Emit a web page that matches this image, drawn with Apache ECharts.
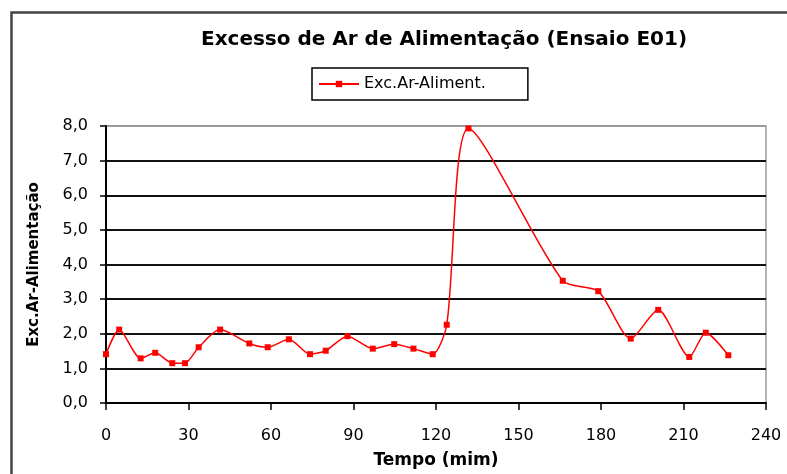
<!DOCTYPE html>
<html>
<head>
<meta charset="utf-8">
<script src="https://cdn.jsdelivr.net/npm/echarts@6/dist/echarts.min.js"></script>
<style>
html,body{margin:0;padding:0;background:#fff;}
#c{width:787px;height:474px;}
</style>
</head>
<body>
<div id="c"></div>
<script>
// Data
var tempo = [0, 4.8, 12.6, 17.9, 24.1, 28.7, 33.7, 41.5, 52.1, 58.8, 66.5, 74.2, 79.9, 87.8, 97.0, 104.8, 111.8, 118.8, 123.9, 131.8, 166.1, 179.0, 190.8, 200.8, 212.1, 218.1, 226.3];
var excAr = [1.41, 2.12, 1.29, 1.45, 1.15, 1.15, 1.61, 2.12, 1.72, 1.61, 1.84, 1.41, 1.51, 1.93, 1.57, 1.70, 1.57, 1.41, 2.26, 7.93, 3.53, 3.23, 1.86, 2.69, 1.33, 2.03, 1.38];
var xTicks = [0, 30, 60, 90, 120, 150, 180, 210, 240];
var yTicks = [0, 1, 2, 3, 4, 5, 6, 7, 8];
var seriesName = 'Exc.Ar-Aliment.';
var titleText = 'Excesso de Ar de Alimentação (Ensaio E01)';
var xName = 'Tempo (mim)';
var yName = 'Exc.Ar-Alimentação';

var pts = tempo.map(function (t, i) { return [t, excAr[i]]; });
var font = 'DejaVu Sans, Liberation Sans, Arial, sans-serif';
var gridColors = yTicks.map(function (v, i) { return i === yTicks.length - 1 ? '#9a9a9a' : '#111'; });

var chart = echarts.init(document.getElementById('c'), null, {renderer: 'canvas'});
chart.setOption({
  animation: false,
  backgroundColor: '#fff',
  title: {
    text: titleText,
    left: 439, top: 25, textAlign: 'center',
    textStyle: {fontFamily: font, fontWeight: 'bold', fontSize: 20, color: '#000'}
  },
  legend: {
    data: [seriesName],
    left: 312, top: 68,
    padding: [8, 42, 8, 6],
    itemWidth: 40, itemHeight: 8, itemGap: 4,
    borderColor: '#000', borderWidth: 1.5,
    textStyle: {fontFamily: font, fontSize: 16, color: '#000'}
  },
  grid: {
    left: 106, right: 21, top: 126, bottom: 69,
    show: true, borderColor: '#9a9a9a', borderWidth: 1.5, backgroundColor: '#fff'
  },
  xAxis: {
    type: 'value', min: 0, max: 240, interval: 30,
    name: xName, nameLocation: 'middle', nameGap: 49,
    nameTextStyle: {fontFamily: font, fontWeight: 'bold', fontSize: 17, color: '#000'},
    axisLine: {lineStyle: {color: '#000', width: 2}},
    axisTick: {show: true, length: 7, lineStyle: {color: '#000', width: 1.5}},
    axisLabel: {fontFamily: font, fontSize: 16, color: '#000', margin: 25},
    splitLine: {show: false}
  },
  yAxis: {
    type: 'value', min: 0, max: 8, interval: 1,
    name: yName, nameLocation: 'middle', nameGap: 64, nameRotate: 90,
    nameTextStyle: {fontFamily: font, fontWeight: 'bold', fontSize: 15, color: '#000'},
    axisLine: {show: true, lineStyle: {color: '#000', width: 2}},
    axisTick: {show: true, length: 6, lineStyle: {color: '#000', width: 1.5}},
    axisLabel: {fontFamily: font, fontSize: 16, color: '#000', margin: 18,
      formatter: function (v) { return v.toFixed(1).replace('.', ','); }},
    splitLine: {show: true, lineStyle: {color: gridColors, width: 2}}
  },
  series: [{
    name: seriesName,
    type: 'line',
    data: pts,
    smooth: 0.25,
    symbol: 'rect', symbolSize: 6,
    itemStyle: {color: '#ff0000'},
    lineStyle: {color: '#ff0000', width: 1.5}
  }],
  graphic: [{
    type: 'rect', left: 9, top: 10, z: 100, silent: true,
    shape: {width: 820, height: 520},
    style: {fill: null, stroke: '#444', lineWidth: 2.5}
  }]
});
</script>
</body>
</html>
